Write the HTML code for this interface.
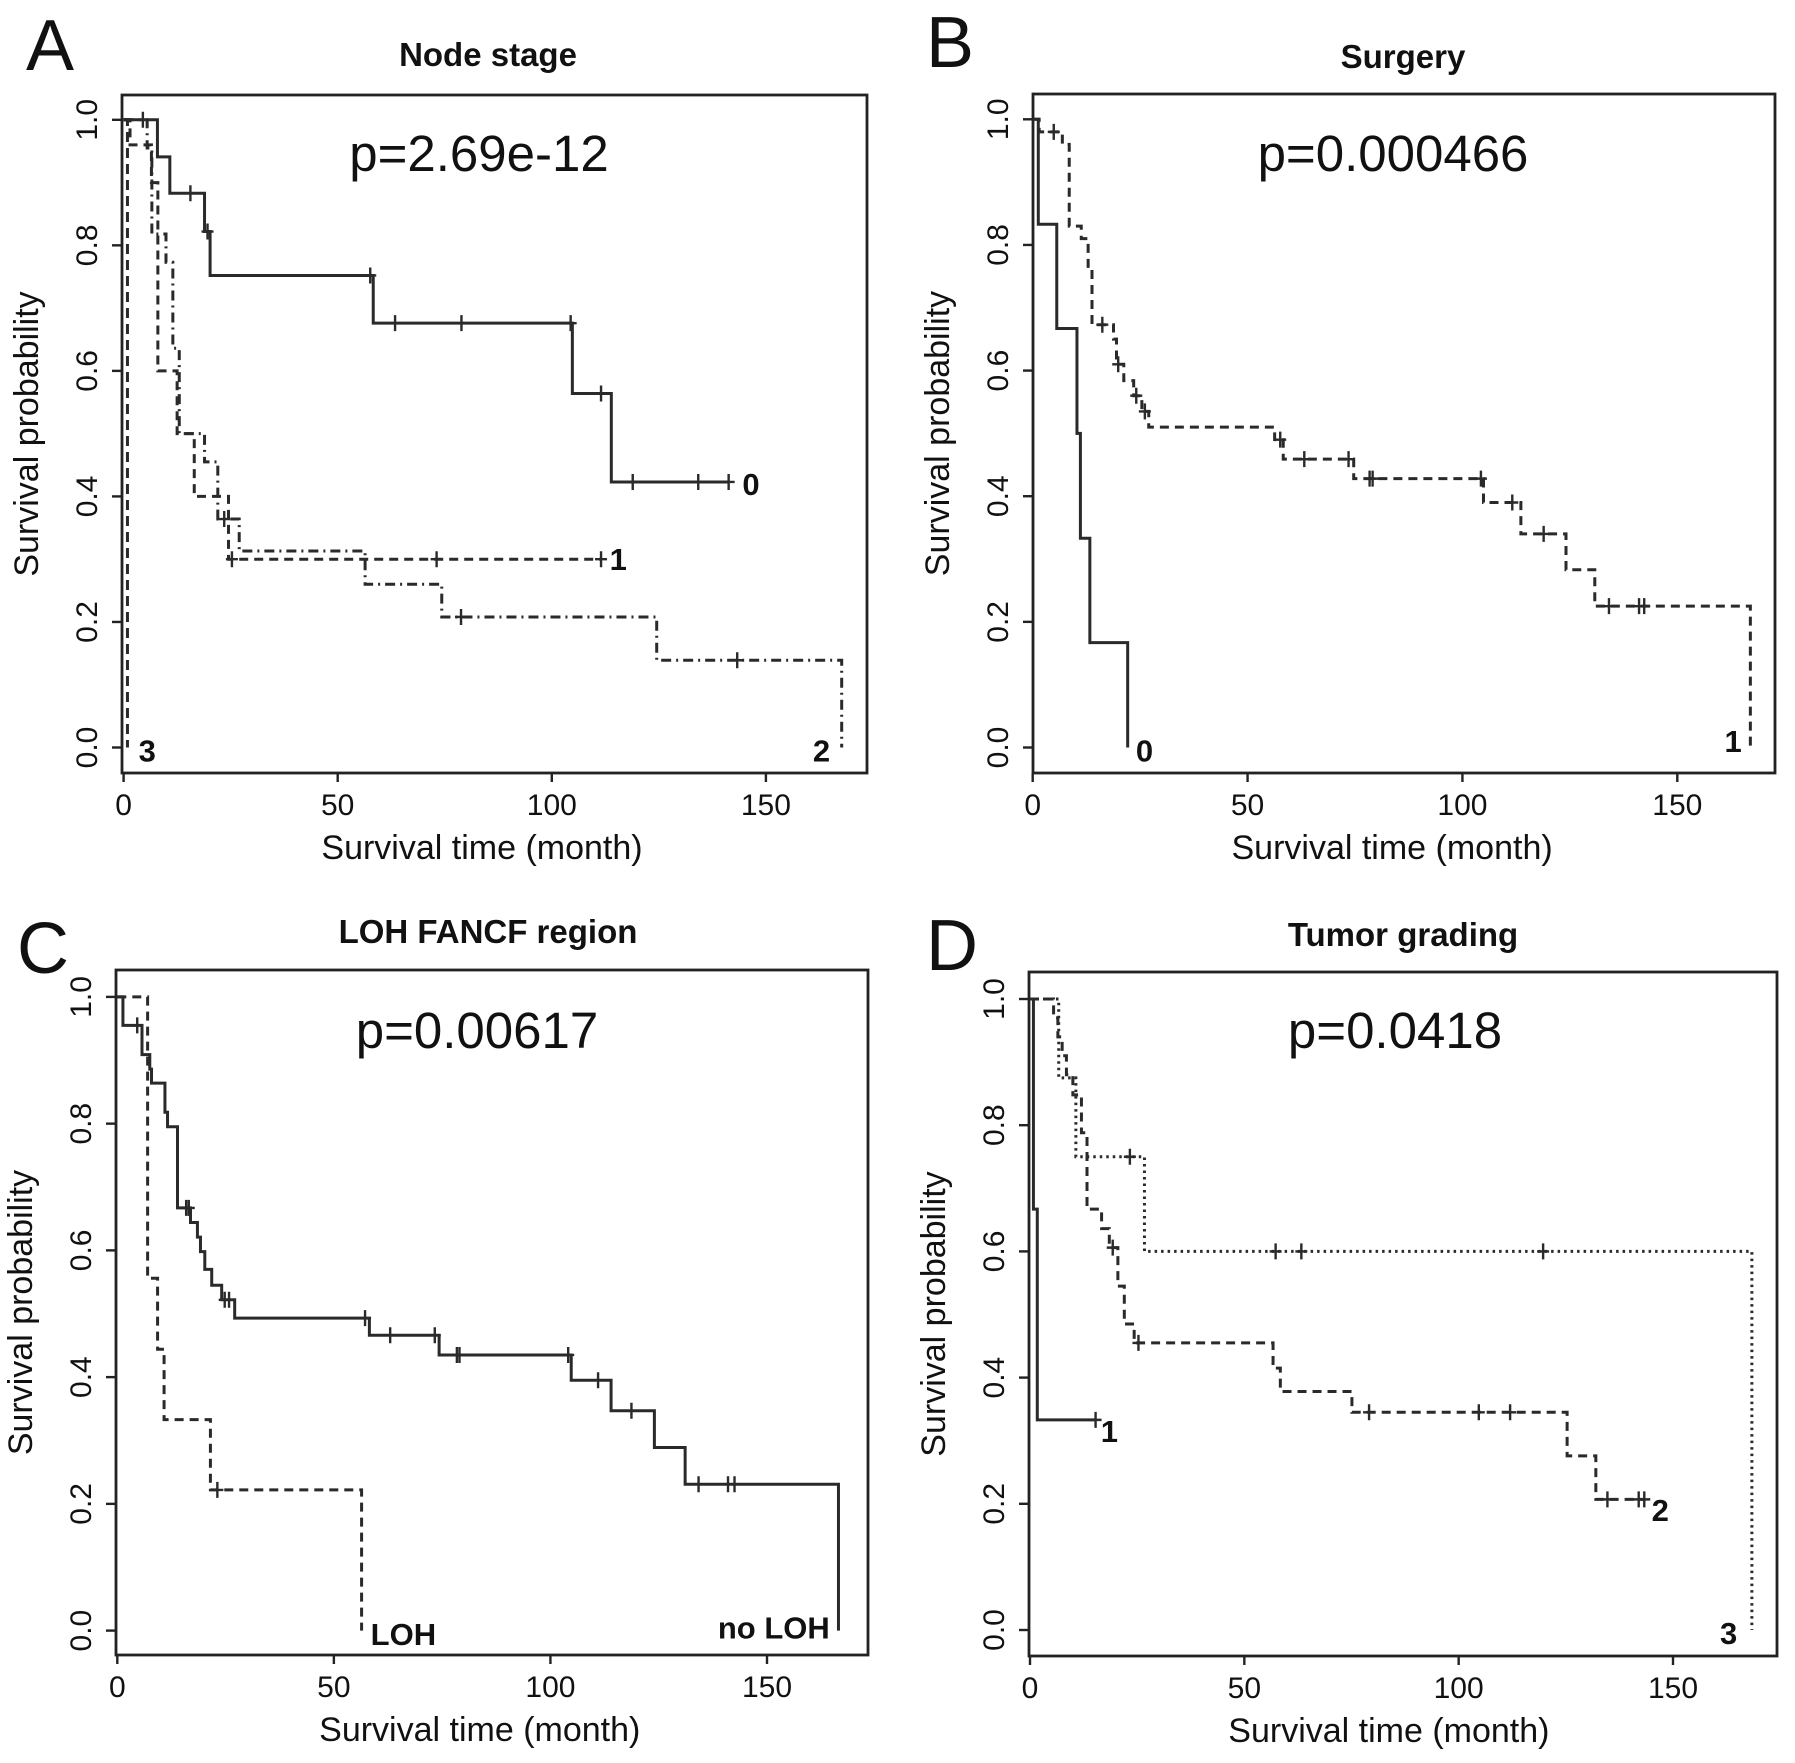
<!DOCTYPE html>
<html><head><meta charset="utf-8">
<style>
html,body{margin:0;padding:0;background:#fff;}
svg{display:block;}
text{font-family:"Liberation Sans",Arial,sans-serif;fill:#111;}
</style></head>
<body>
<svg id="fig" width="1795" height="1763" viewBox="0 0 1795 1763" xmlns="http://www.w3.org/2000/svg"></svg>
<script>
// ---- data: Panel A (Node stage)
const A0_t=[0,7.9,10.8,18.9,20.2,58.3,104.8,113.9];
const A0_s=[1,.941,.883,.822,.752,.676,.564,.423];
const A0_c=[4.5,15.6,19.6,57.6,63.4,78.9,104.4,111.5,118.9,134.2,141.3];
const A0_end=141.3;
const A1_t=[0,1.5,6.5,8,12.5,16.5,24.5];
const A1_s=[1,.96,.9,.6,.5,.4,.3];
const A1_c=[25.3,73.1,111.5];
const A1_end=111.5;
const A2_t=[0,5.5,6.6,9.9,11.5,13,18.9,22,27,56.4,74.3,124.5,167.7];
const A2_s=[1,.955,.818,.773,.636,.5,.455,.364,.313,.26,.208,.139,0];
const A2_c=[23.5,78.8,143.3];
const A2_end=167.7;
const A3_t=[0,0.9];
const A3_s=[1,0];
const A3_c=[];
const A3_end=0.9;
// ---- Panel B (Surgery)
const B0_t=[0,1.3,5.6,10.3,11.1,13.3,22.1];
const B0_s=[1,.833,.667,.5,.333,.167,0];
const B0_c=[];
const B0_end=22.1;
const B1_t=[0,1.5,6.9,8.5,11.3,12.9,13.8,18.8,19.5,21.2,23.5,25.4,27,56.3,58.3,74.7,104.9,113.6,124.1,130.8,167];
const B1_s=[1,.98,.96,.83,.81,.762,.673,.65,.61,.584,.56,.535,.51,.49,.459,.428,.39,.34,.283,.225,0];
const B1_c=[4.9,16.2,19.9,24.1,26.1,57.6,63.2,73.5,78.4,79.1,104.3,111.6,118.9,134.1,141.1,142.3];
const B1_end=167;
// ---- Panel C (LOH FANCF region)
const C0_t=[0,1.3,5.7,7.5,7.9,11,11.6,13.9,16.9,18.5,19.2,20.2,21.8,24.1,27.1,58.2,74.3,104.8,114,124,131.1,166.5];
const C0_s=[1,.955,.909,.886,.864,.818,.795,.667,.644,.621,.598,.57,.545,.522,.493,.466,.435,.395,.347,.289,.231,0];
const C0_c=[4.6,15.9,16.5,24.8,25.8,57.2,63,73.3,78.4,79,104.1,111,118.7,134.2,141,142.5];
const C0_end=166.5;
const C1_t=[0,7,9.3,10.8,21.5,56.4];
const C1_s=[1,.556,.444,.333,.222,0];
const C1_c=[23.1];
const C1_end=56.4;
// ---- Panel D (Tumor grading)
const D1_t=[0,0.8,1.7];
const D1_s=[1,.667,.333];
const D1_c=[15.3];
const D1_end=15.3;
const D2_t=[0,5.5,6.5,7.5,8.5,10,12,13.3,16.7,18.5,20.5,22,24.3,56.7,58.4,75.1,125.3,132];
const D2_s=[1,.97,.94,.91,.88,.848,.788,.667,.636,.606,.545,.485,.455,.415,.378,.345,.276,.207];
const D2_c=[19.3,25.3,79.1,104.7,112,134.7,142,143.3];
const D2_end=143.3;
const D3_t=[0,6.7,10.7,26.7,168.4];
const D3_s=[1,.875,.75,.6,0];
const D3_c=[23.3,57.3,63.3,119.7];
const D3_end=168.4;
// axis ticks
const xTicks=[0,50,100,150];
const yTicks=[0,0.2,0.4,0.6,0.8,1.0];
const yTickLabels=["0.0","0.2","0.4","0.6","0.8","1.0"];

const NS="http://www.w3.org/2000/svg";
const svg=document.getElementById('fig');
function mk(tag,attrs,parent){const e=document.createElementNS(NS,tag);for(const k in attrs)e.setAttribute(k,attrs[k]);(parent||svg).appendChild(e);return e;}

const panels=[
 {id:'a',letter:'A',title:'Node stage',p:'p=2.69e-12',L:122,R:867,T:95,B:773,x0:123.6,x150:765.9,y1:119.8,y0:747.5,
  lx:26,ly:70,tx:488,ty:66,px:479,py:171,
  series:[{t:A0_t,s:A0_s,c:A0_c,end:A0_end,dash:'none',name:'0'},{t:A1_t,s:A1_s,c:A1_c,end:A1_end,dash:'9,6',name:'1'},
          {t:A2_t,s:A2_s,c:A2_c,end:A2_end,dash:'10,5,2,5',name:'2'},{t:A3_t,s:A3_s,c:A3_c,end:A3_end,dash:'10,6',name:'3'}],
  labels:[{txt:'0',x:144.5,y:.42,a:'start'},{txt:'1',x:113.5,y:.3,a:'start'},{txt:'2',x:165,y:-.005,a:'end'},{txt:'3',x:3.5,y:-.005,a:'start'}]},
 {id:'b',letter:'B',title:'Surgery',p:'p=0.000466',L:1033,R:1775,T:94,B:773,x0:1032.7,x150:1677.3,y1:119.3,y0:747.5,
  lx:926,ly:67,tx:1403,ty:68,px:1393,py:171,
  series:[{t:B0_t,s:B0_s,c:B0_c,end:B0_end,dash:'none',name:'0'},{t:B1_t,s:B1_s,c:B1_c,end:B1_end,dash:'9,6',name:'1'}],
  labels:[{txt:'0',x:24,y:-.005,a:'start'},{txt:'1',x:165,y:.01,a:'end'}]},
 {id:'c',letter:'C',title:'LOH FANCF region',p:'p=0.00617',L:116,R:868,T:970,B:1655,x0:117.3,x150:767,y1:996.9,y0:1630.6,
  lx:17,ly:973,tx:488,ty:943,px:477,py:1048,
  series:[{t:C0_t,s:C0_s,c:C0_c,end:C0_end,dash:'none',name:'no-loh'},{t:C1_t,s:C1_s,c:C1_c,end:C1_end,dash:'9,6',name:'loh'}],
  labels:[{txt:'LOH',x:58.5,y:-.005,a:'start'},{txt:'no LOH',x:164.5,y:.005,a:'end'}]},
 {id:'d',letter:'D',title:'Tumor grading',p:'p=0.0418',L:1029,R:1777,T:972,B:1656,x0:1030,x150:1673,y1:999,y0:1630,
  lx:926,ly:970,tx:1403,ty:946,px:1395,py:1048,
  series:[{t:D1_t,s:D1_s,c:D1_c,end:D1_end,dash:'none',name:'1'},{t:D2_t,s:D2_s,c:D2_c,end:D2_end,dash:'9,6',name:'2'},
          {t:D3_t,s:D3_s,c:D3_c,end:D3_end,dash:'2.5,4',name:'3'}],
  labels:[{txt:'1',x:16.5,y:.315,a:'start'},{txt:'2',x:145,y:.19,a:'start'},{txt:'3',x:165,y:-.005,a:'end'}]}
];

function stepAt(t,s,x){let v=s[0];for(let i=0;i<t.length;i++){if(t[i]<=x)v=s[i];}return v;}

panels.forEach(P=>{
  const g=mk('g',{});
  
  
  const X=v=>P.x0+(P.x150-P.x0)*v/150;
  const Y=v=>P.y0+(P.y1-P.y0)*v;
  const letter=mk('text',{x:P.lx,y:P.ly,'font-size':72},g);letter.textContent=P.letter;
  
  const title=mk('text',{x:P.tx,y:P.ty,'font-size':33,'font-weight':'bold','text-anchor':'middle'},g);title.textContent=P.title;
  
  const box=mk('rect',{x:P.L,y:P.T,width:P.R-P.L,height:P.B-P.T,fill:'none',stroke:'#222','stroke-width':2.8},g);
  
  const pv=mk('text',{x:P.px,y:P.py,'font-size':51,'text-anchor':'middle'},g);pv.textContent=P.p;
  
  xTicks.forEach(v=>{
    const tk=mk('line',{x1:X(v),x2:X(v),y1:P.B,y2:P.B+9,stroke:'#222','stroke-width':2.4},g);
    
    const tl=mk('text',{x:X(v),y:P.B+42,'font-size':30,'text-anchor':'middle'},g);tl.textContent=v;
    
  });
  yTicks.forEach((v,i)=>{
    const tk=mk('line',{x1:P.L-10,x2:P.L,y1:Y(v),y2:Y(v),stroke:'#222','stroke-width':2.4},g);
    
    const cx=P.L-36,cy=Y(v);
    const tl=mk('text',{x:cx,y:cy+11,'font-size':30,'text-anchor':'middle',transform:`rotate(-90 ${cx} ${cy})`},g);tl.textContent=yTickLabels[i];
    
  });
  const xt=mk('text',{x:(P.x0+P.x150)/2+(P.R-P.L)*0.05,y:P.B+86,'font-size':34,'text-anchor':'middle'},g);xt.textContent='Survival time (month)';
  
  const ycx=P.L-96,ycy=(P.T+P.B)/2;
  const yt=mk('text',{x:ycx,y:ycy+12,'font-size':34,'text-anchor':'middle',transform:`rotate(-90 ${ycx} ${ycy})`},g);yt.textContent='Survival probability';
  

  P.series.forEach(S=>{
    let d=`M${X(S.t[0])},${Y(S.s[0])}`;
    for(let i=1;i<S.t.length;i++){d+=` H${X(S.t[i])} V${Y(S.s[i])}`;}
    d+=` H${X(S.end)}`;
    const path=mk('path',{d:d,fill:'none',stroke:'#2a2a2a','stroke-width':3,'stroke-dasharray':S.dash},g);
    
    
    S.c.forEach(c=>{
      const yy=Y(stepAt(S.t,S.s,c));
      const m=mk('path',{d:`M${X(c)},${yy-8} V${yy+8} M${X(c)-6},${yy} H${X(c)+6}`,stroke:'#2a2a2a','stroke-width':2.4,fill:'none'},g);
      
      
    });
  });
  P.labels.forEach(Lb=>{
    const t=mk('text',{x:X(Lb.x),y:Y(Lb.y)+11,'font-size':31,'font-weight':'bold','text-anchor':Lb.a},g);t.textContent=Lb.txt;
    
    
  });
});
</script>
</body></html>
